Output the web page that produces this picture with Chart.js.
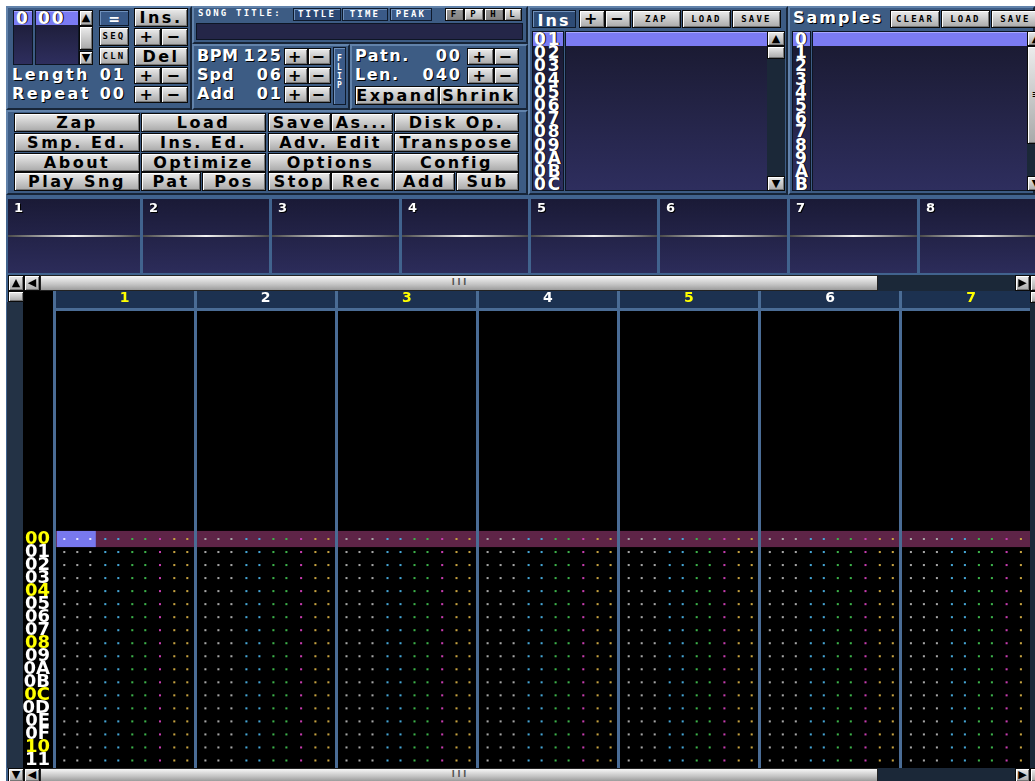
<!DOCTYPE html>
<html>
<head>
<meta charset="utf-8">
<script src="https://cdn.jsdelivr.net/npm/chart.js@4.4.0/dist/chart.umd.min.js"></script>
<style>
body{margin:0;background:#fff;}
#app{position:relative;width:1035px;height:781px;overflow:hidden;background:#fff;}
#app div,#app canvas{position:absolute;box-sizing:border-box;}
.sec{background:#3d5c84;border:2px solid;border-color:#6283ab #172538 #172538 #6283ab;}
.b{background:linear-gradient(#ececec,#a9a9a9);border:1px solid #0a0a0a;box-shadow:inset 1px 1px 0 #fff,inset -1px -1px 0 #767676;color:#000;text-align:center;font:bold 16px 'DejaVu Sans';letter-spacing:2.5px;white-space:nowrap;overflow:hidden;}
.bb{background:#3a5a88;border:1px solid #0e1a2c;box-shadow:inset 1px 1px 0 #6f90bb;color:#fff;text-align:center;white-space:nowrap;overflow:hidden;}
.pr{background:linear-gradient(#9a9a9a,#808080);}
.lst{background:linear-gradient(#19192f,#2e2e5e);border:1px solid #0d1524;}
.hl{background:#7b7bf2;box-shadow:inset 0 1px 0 #a8a8ff;}
.t{color:#fff;font:bold 16px 'DejaVu Sans';letter-spacing:2.5px;text-shadow:1px 1px 0 #000;white-space:nowrap;}
.num{color:#fff;font:bold 17px 'DejaVu Sans';letter-spacing:2px;line-height:13.2px;white-space:pre;text-shadow:1px 0 0 #000;}
.s{font:bold 9px 'DejaVu Sans Mono';letter-spacing:2.2px;}
.ar{font:11px 'DejaVu Sans';letter-spacing:0;}
.trk{background:#1b2838;}
.th{background:linear-gradient(#f6f6f6,#c4c4c4 60%,#9c9c9c);border:1px solid #222;color:#555;text-align:center;font:bold 8px 'DejaVu Sans';}
.scope{background:linear-gradient(#1a1a36,#2c2c5a);}
</style>
</head>
<body>
<div id="app"></div>
<script>
// song / list data
const orderPositions = ['0'];
const orderPatterns = ['00'];
const songLength = '01';
const songRepeat = '00';
const bpm = '125';
const speed = '06';
const addRows = '01';
const patternNo = '00';
const patternLen = '040';
const instrumentNumbers = ['01', '02', '03', '04', '05', '06', '07', '08', '09', '0A', '0B', '0C'];
const sampleNumbers = ['0', '1', '2', '3', '4', '5', '6', '7', '8', '9', 'A', 'B'];

// scopes (all channels silent)
const scopeChannels = ['1', '2', '3', '4', '5', '6', '7', '8'];
const scopeWave = [0, 0];

// pattern editor
const channelLabels = ['1', '2', '3', '4', '5', '6', '7'];
const rowLabels = ['00', '01', '02', '03', '04', '05', '06', '07', '08', '09', '0A', '0B', '0C', '0D', '0E', '0F', '10', '11'];
const fieldKinds = ['note', 'note', 'note', 'ins', 'ins', 'vol', 'vol', 'fx', 'par', 'par'];
const cursorRow = 0;
const cursorChannel = 0;

const app = document.getElementById('app');
function el(cls, x, y, w, h, text, css) {
  const d = document.createElement('div');
  d.className = cls;
  d.style.left = x + 'px';
  d.style.top = y + 'px';
  if (w != null) d.style.width = w + 'px';
  if (h != null) { d.style.height = h + 'px'; d.style.lineHeight = (h - 2) + 'px'; }
  if (text != null) d.textContent = text;
  if (css) Object.assign(d.style, css);
  app.appendChild(d);
  return d;
}
const btn = (x, y, w, h, t, cls) => el('b' + (cls ? ' ' + cls : ''), x, y, w, h, t);
const txt = (x, y, t, css) => el('t', x, y, null, 18, t, Object.assign({lineHeight: '18px'}, css || {}));
const val = (right, y, t) => el('t', right - 60, y, 60, 18, t, {lineHeight: '18px', textAlign: 'right', letterSpacing: '2px'});
const small = {font: "bold 9px 'DejaVu Sans Mono'", letterSpacing: '2.2px'};

// ---- top panel sections
el('sec', 6, 6, 186, 104);
el('sec', 192, 6, 336, 38);
el('sec', 192, 44, 158, 66);
el('sec', 350, 44, 178, 66);
el('sec', 6, 110, 522, 85);
el('sec', 528, 6, 260, 189);
el('sec', 788, 6, 247, 189);

// order list
el('lst', 13, 10, 20, 55);
el('lst', 35, 10, 44, 55);
el('hl', 14, 11, 18, 14);
el('hl', 36, 11, 42, 14);
el('num', 16, 12, null, null, orderPositions.join('\n'));
el('num', 38, 12, null, null, orderPatterns.join('\n'));
el('trk', 79, 10, 14, 55);
btn(79, 10, 14, 16, '▲', 'ar');
btn(79, 26, 14, 24, '');
btn(79, 51, 14, 14, '▼', 'ar');
el('bb', 99, 10, 30, 16, '=', {font: 'bold 14px DejaVu Sans'});
btn(99, 27, 30, 19, 'SEQ', 's');
btn(99, 47, 30, 18, 'CLN', 's');
btn(134, 8, 54, 19, 'Ins.');
btn(134, 28, 27, 18, '+'); btn(161, 28, 27, 18, '−');
btn(134, 47, 54, 19, 'Del');
btn(134, 67, 27, 17, '+'); btn(161, 67, 27, 17, '−');
btn(134, 86, 27, 17, '+'); btn(161, 86, 27, 17, '−');
txt(12, 66, 'Length'); val(126, 66, songLength);
txt(12, 85, 'Repeat'); val(126, 85, songRepeat);

// song title
el('t', 198, 8, null, 12, 'SONG TITLE:', Object.assign({lineHeight: '12px', textShadow: 'none'}, small));
el('bb', 293, 8, 48, 13, 'TITLE', Object.assign({background: '#2c4874'}, small));
el('bb', 342, 8, 46, 13, 'TIME', small);
el('bb', 390, 8, 42, 13, 'PEAK', small);
btn(445, 8, 19, 13, 'F', 's pr'); btn(464, 8, 20, 13, 'P', 's');
btn(484, 8, 20, 13, 'H', 's pr'); btn(504, 8, 18, 13, 'L', 's');
el('lst', 196, 23, 327, 17, null, {background: '#242648'});

// bpm / speed / add
txt(197, 47, 'BPM', {letterSpacing: '0.5px'}); val(283, 47, bpm);
txt(197, 66, 'Spd', {letterSpacing: '1px'}); val(283, 66, speed);
txt(197, 85, 'Add', {letterSpacing: '1px'}); val(283, 85, addRows);
[48, 67, 86].forEach(y => { btn(284, y, 24, 17, '+'); btn(308, y, 23, 17, '−'); });
el('bb', 333, 47, 13, 58, 'F\nL\nI\nP', {whiteSpace: 'pre', lineHeight: '11px', paddingTop: '6px', font: "bold 8px 'DejaVu Sans Mono'"});

// pattern no / length
txt(355, 47, 'Patn.', {letterSpacing: '1.5px'}); val(462, 47, patternNo);
txt(355, 66, 'Len.', {letterSpacing: '1.5px'}); val(462, 66, patternLen);
[48, 67].forEach(y => { btn(467, y, 27, 17, '+'); btn(494, y, 25, 17, '−'); });
btn(355, 86, 84, 19, 'Expand');
btn(439, 86, 80, 19, 'Shrink');

// main buttons
btn(14, 113, 126, 19, 'Zap'); btn(141, 113, 125, 19, 'Load');
btn(268, 113, 63, 19, 'Save'); btn(331, 113, 62, 19, 'As...'); btn(394, 113, 125, 19, 'Disk Op.');
btn(14, 133, 126, 19, 'Smp. Ed.'); btn(141, 133, 125, 19, 'Ins. Ed.');
btn(268, 133, 125, 19, 'Adv. Edit'); btn(394, 133, 125, 19, 'Transpose');
btn(14, 153, 126, 19, 'About'); btn(141, 153, 125, 19, 'Optimize');
btn(268, 153, 125, 19, 'Options'); btn(394, 153, 125, 19, 'Config');
btn(14, 172, 126, 19, 'Play Sng'); btn(141, 172, 60, 19, 'Pat'); btn(202, 172, 64, 19, 'Pos');
btn(268, 172, 63, 19, 'Stop'); btn(331, 172, 62, 19, 'Rec');
btn(394, 172, 61, 19, 'Add'); btn(456, 172, 63, 19, 'Sub');

// instruments
el('bb', 532, 10, 44, 18, 'Ins', {font: 'bold 16px DejaVu Sans', letterSpacing: '2px', background: '#2e4c76'});
btn(579, 10, 26, 18, '+'); btn(605, 10, 26, 18, '−');
btn(632, 10, 49, 18, 'ZAP', 's'); btn(682, 10, 49, 18, 'LOAD', 's'); btn(732, 10, 49, 18, 'SAVE', 's');
el('lst', 532, 31, 32, 160);
el('lst', 565, 31, 203, 160);
el('hl', 533, 32, 30, 14);
el('hl', 566, 32, 201, 14);
el('num', 534, 33, null, null, instrumentNumbers.join('\n'));
el('trk', 767, 31, 18, 160);
btn(767, 31, 18, 15, '▲', 'ar'); btn(767, 46, 18, 13, ''); btn(767, 176, 18, 15, '▼', 'ar');

// samples
txt(793, 9, 'Samples', {letterSpacing: '2px'});
btn(890, 10, 50, 18, 'CLEAR', 's'); btn(941, 10, 49, 18, 'LOAD', 's'); btn(991, 10, 49, 18, 'SAVE', 's');
el('lst', 792, 31, 19, 160);
el('lst', 812, 31, 216, 160);
el('hl', 793, 32, 17, 14);
el('hl', 813, 32, 214, 14);
el('num', 795, 33, null, null, sampleNumbers.join('\n'));
el('trk', 1027, 31, 18, 160);
btn(1027, 31, 18, 15, '▲', 'ar'); btn(1027, 46, 18, 98, '≡', 'ar'); btn(1027, 176, 18, 15, '▼', 'ar');

// ---- lower part
el('', 6, 195, 1029, 586, null, {background: '#41638e'});

// scopes
const scopeX = [8, 143, 272, 402, 531, 660, 790, 920];
scopeChannels.forEach((c, i) => {
  const x = scopeX[i];
  const w = (i < 7 ? scopeX[i + 1] - 3 : 1040) - x;
  el('scope', x, 199, w, 74);
  const cv = document.createElement('canvas');
  cv.width = w; cv.height = 74;
  cv.style.left = x + 'px'; cv.style.top = '199px';
  app.appendChild(cv);
  new Chart(cv, {
    type: 'line',
    data: {labels: scopeWave.map((_, k) => k), datasets: [{
      data: scopeWave,
      borderWidth: 2,
      pointRadius: 0,
      borderColor: ctx => {
        const a = ctx.chart.chartArea;
        if (!a) return '#bbb';
        const g = ctx.chart.ctx.createLinearGradient(a.left, 0, a.right, 0);
        g.addColorStop(0, '#4a4a4a'); g.addColorStop(0.5, '#f4f4f4'); g.addColorStop(1, '#4a4a4a');
        return g;
      }
    }]},
    options: {
      responsive: false, animation: false, events: [],
      layout: {padding: 0},
      plugins: {legend: {display: false}, tooltip: {enabled: false}},
      scales: {x: {display: false, offset: false}, y: {display: false, min: -1, max: 1}}
    }
  });
  el('t', x + 6, 201, null, 14, c, {fontSize: '13px', letterSpacing: '0', lineHeight: '14px'});
});

// ---- pattern editor (Chart.js scatter)
const CH_W = 141.1;
const slotPx = [10.3, 23.3, 36.3, 51.3, 64.3, 78.3, 91.3, 106, 120.3, 133.3];
const kinds = ['note', 'ins', 'vol', 'fx', 'par'];
const kindColor = {note: '#a6a6a6', ins: '#45a6d6', vol: '#3cb24a', fx: '#c63cae', par: '#c6a240'};

const datasets = kinds.map(k => ({
  label: k,
  data: [],
  pointStyle: 'rect',
  pointRadius: 1.45,
  borderWidth: 0,
  backgroundColor: ctx => {
    const p = ctx.raw;
    if (p && k === 'note' && p.y === cursorRow && Math.floor(p.x) === cursorChannel) return '#e8e8ff';
    return kindColor[k];
  }
}));
channelLabels.forEach((c, ci) => {
  rowLabels.forEach((r, ri) => {
    fieldKinds.forEach((k, fi) => {
      datasets[kinds.indexOf(k)].data.push({x: ci + slotPx[fi] / CH_W, y: ri});
    });
  });
});

const patCanvas = document.createElement('canvas');
patCanvas.width = 1012; patCanvas.height = 482;
patCanvas.style.left = '22px'; patCanvas.style.top = '291px';
patCanvas.style.background = '#000';
app.appendChild(patCanvas);

const backPlugin = {
  id: 'back',
  beforeDraw(chart) {
    const {ctx, chartArea: a, scales: {x, y}} = chart;
    ctx.save();
    ctx.fillStyle = '#1c3150';
    ctx.fillRect(x.left, x.top, x.right - x.left, x.bottom - x.top);
    const top = y.getPixelForValue(cursorRow - 0.62);
    const bot = y.getPixelForValue(cursorRow + 0.62);
    ctx.fillStyle = '#5e2447';
    ctx.fillRect(a.left, top, a.right - a.left, bot - top);
    const x0 = x.getPixelForValue(cursorChannel + (slotPx[0] - 7.5) / CH_W);
    const x1 = x.getPixelForValue(cursorChannel + (slotPx[2] + 5.5) / CH_W);
    ctx.fillStyle = '#7878ee';
    ctx.fillRect(x0, top, x1 - x0, bot - top);
    ctx.restore();
  }
};

new Chart(patCanvas, {
  type: 'scatter',
  data: {datasets},
  plugins: [backPlugin],
  options: {
    responsive: false, animation: false, events: [],
    layout: {padding: 0},
    plugins: {legend: {display: false}, tooltip: {enabled: false}},
    scales: {
      x: {
        type: 'linear', position: 'top', min: 0, max: 976 / CH_W,
        afterBuildTicks: s => { s.ticks = channelLabels.map((_, i) => ({value: i})); },
        afterFit: s => { s.height = 18; s.paddingLeft = 0; s.paddingRight = 0; },
        grid: {color: '#4a6c95', lineWidth: 3, drawTicks: true, tickLength: 18, tickColor: '#4a6c95'},
        border: {display: true, color: '#4a6c95', width: 3},
        ticks: {
          callback: (v, i) => channelLabels[i],
          labelOffset: CH_W / 2,
          padding: -16,
          maxRotation: 0,
          autoSkip: false,
          font: {family: 'DejaVu Sans', size: 14, weight: 'bold'},
          color: ctx => ctx.index % 2 === 0 ? '#ffff00' : '#ffffff'
        }
      },
      y: {
        type: 'linear', position: 'left', reverse: true,
        min: -459 / 26, max: 459 / 26,
        afterBuildTicks: s => { s.ticks = rowLabels.map((_, i) => ({value: i})); },
        afterFit: s => { s.width = 32; s.paddingTop = 0; s.paddingBottom = 0; },
        grid: {display: false, drawTicks: false},
        border: {display: false},
        ticks: {
          callback: (v, i) => rowLabels[i],
          padding: 4,
          autoSkip: false,
          font: {family: 'DejaVu Sans', size: 18, weight: 'bold'},
          color: ctx => ctx.index % 4 === 0 ? '#ffff00' : '#ffffff'
        }
      }
    }
  }
});

// scroll bars (over the pattern canvas edges)
function hscroll(y, h, upGlyph) {
  el('trk', 8, y, 1027, h);
  btn(8, y, 16, h, upGlyph, 'ar');
  btn(24, y, 16, h, '◀', 'ar');
  el('th', 40, y, 838, h, 'I I I', {lineHeight: (h - 2) + 'px'});
  btn(1015, y, 15, h, '▶', 'ar');
  btn(1030, y, 8, h, '');
}
hscroll(275, 16, '▲');
hscroll(768, 14, '▼');
btn(8, 291, 16, 11, '');
el('', 7, 302, 16, 466, null, {background: '#233245'});
el('trk', 1030, 291, 5, 477);
btn(1030, 291, 8, 12, '');
</script>
</body>
</html>
